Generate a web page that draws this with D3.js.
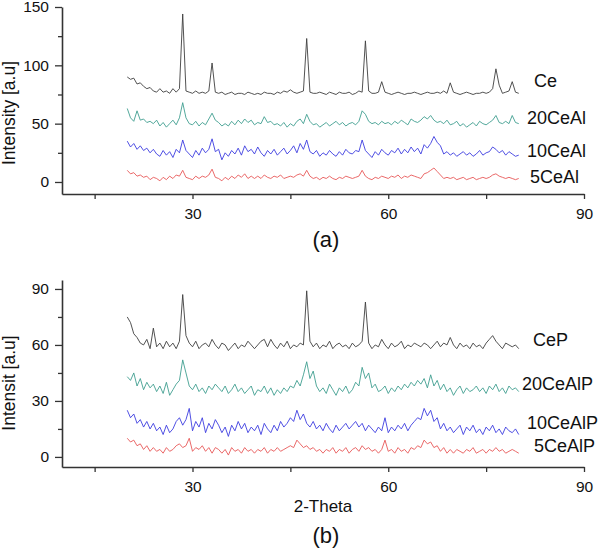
<!DOCTYPE html>
<html>
<head>
<meta charset="utf-8">
<script src="https://cdn.jsdelivr.net/npm/d3@7"></script>
<style>
  body { margin: 0; background: #fff; }
  text { font-family: "Liberation Sans", Arial, sans-serif; fill: #111; }
</style>
</head>
<body>
<div id="chart"></div>
<script>
// 2-theta sampling grid (20 to 80 deg, 0.5 deg step)
let twoTheta = d3.range(0, 121).map(i => 20 + i * 0.5);

// panel (a) intensities
let ce = [
  90, 88, 89, 84, 85, 82, 80, 81, 78, 77,
  80, 77, 78, 76, 80, 77, 80, 144, 78, 77,
  76, 78, 76, 77, 76, 78, 102, 77, 76, 77,
  75, 76, 77, 75, 76, 76, 75, 77, 76, 75,
  76, 75, 77, 76, 76, 75, 77, 76, 78, 77,
  79, 77, 76, 77, 78, 123, 77, 76, 76, 77,
  76, 75, 77, 76, 75, 77, 76, 76, 77, 75,
  76, 78, 77, 121, 78, 76, 76, 77, 86, 77,
  76, 75, 76, 77, 76, 75, 76, 76, 77, 76,
  75, 76, 77, 76, 76, 77, 76, 78, 76, 85,
  77, 76, 75, 76, 77, 76, 75, 76, 76, 77,
  76, 77, 80, 97, 83, 76, 77, 78, 86, 77,
  76
];
let ce20Al = [
  63, 55, 52, 61, 53, 54, 51, 52, 50, 53,
  48, 51, 47, 50, 53, 49, 55, 68, 55, 50,
  49, 52, 48, 51, 49, 54, 59, 53, 51, 48,
  50, 48, 52, 49, 53, 50, 54, 51, 53, 49,
  51, 50, 56, 51, 52, 49, 50, 48, 51, 47,
  50, 48, 52, 54, 50, 58, 52, 49, 50, 47,
  49, 51, 48, 50, 52, 49, 51, 48, 50, 51,
  49, 52, 61, 58, 52, 50, 51, 49, 52, 50,
  51, 49, 52, 50, 53, 51, 49, 54, 52, 51,
  53, 56, 54, 57, 53, 51, 52, 50, 53, 49,
  50, 52, 48, 50, 47, 49, 51, 48, 52, 50,
  49, 51, 53, 57, 51, 50, 52, 50, 57, 51,
  50
];
let ce10Al = [
  35, 30, 33, 28, 31, 27, 29, 25, 28, 24,
  22, 27, 23, 26, 21, 28, 25, 36, 27, 24,
  21, 27, 23, 29, 25, 28, 37, 26, 28, 19,
  25, 22, 27, 24, 29, 23, 31, 26, 28, 24,
  30, 25, 22, 27, 24, 28, 23, 26, 29, 24,
  27, 31, 25, 33, 28, 36, 26, 24, 27, 22,
  25, 23, 27, 24, 22, 26, 23, 28, 25, 24,
  27, 26, 36, 27, 24, 21, 26, 23, 28, 25,
  23, 27, 25, 29, 24, 28, 25, 30, 26, 29,
  24, 32, 29, 33, 39, 34, 31, 24, 26, 23,
  25, 22, 24, 26, 23, 25, 22, 24, 27, 23,
  25, 26, 30, 28, 25, 27, 23, 26, 24, 22,
  23
];
let ce5Al = [
  10, 7, 8, 5, 6, 4, 5, 2, 4, 3,
  1, 4, 2, 5, 3, 6, 5, 10, 4, 3,
  2, 5, 3, 5, 4, 6, 11, 4, 3, 1,
  4, 2, 5, 3, 6, 4, 7, 3, 5, 3,
  5, 3, 6, 4, 3, 5, 4, 6, 3, 4,
  5, 4, 6, 7, 5, 10, 5, 3, 4, 2,
  4, 3, 5, 3, 2, 4, 3, 5, 4, 3,
  4, 5, 10, 5, 3, 2, 4, 3, 5, 4,
  3, 5, 4, 6, 3, 5, 4, 6, 5, 4,
  3, 7, 8, 10, 12, 9, 6, 3, 4, 3,
  4, 2, 3, 4, 2, 3, 4, 2, 3, 4,
  3, 4, 6, 7, 5, 4, 3, 4, 3, 2,
  3
];

// panel (b) intensities
let ceP = [
  75, 72, 66, 64, 61, 60, 63, 58, 69, 59,
  61, 58, 62, 59, 61, 58, 62, 87, 65, 61,
  59, 62, 58, 60, 61, 59, 63, 60, 58, 61,
  60, 57, 59, 61, 58, 60, 59, 62, 60, 58,
  60, 62, 63, 59, 63, 60, 58, 61, 59, 62,
  58, 60, 59, 61, 60, 89, 62, 59, 61, 58,
  60, 59, 62, 58, 60, 61, 59, 60, 58, 61,
  59, 60, 62, 83, 61, 58, 60, 59, 63, 60,
  58, 61, 59, 60, 62, 58, 60, 59, 61, 60,
  59, 61, 60, 58, 60, 62, 59, 61, 60, 64,
  60, 58, 61, 59, 60, 58, 61, 59, 60, 58,
  61, 63, 65, 62, 60, 58, 61, 60, 59, 60,
  58
];
let ce20AlP = [
  43, 41, 45, 38, 42, 36, 40, 37, 39, 35,
  38, 34, 40, 33, 36, 39, 41, 52, 45, 38,
  36, 39, 35, 37, 34, 38, 36, 39, 37, 35,
  38, 34, 36, 39, 35, 37, 34, 36, 38, 33,
  36, 35, 38, 34, 37, 33, 36, 34, 37, 35,
  38, 37, 41, 38, 44, 51, 42, 46, 38, 35,
  37, 34, 39, 36, 33, 37, 35, 38, 34, 36,
  40, 38, 48, 42, 45, 37, 39, 35, 36, 38,
  34, 37, 35, 38, 36, 39, 37, 40, 38, 41,
  39, 42, 37, 44, 38, 41, 36, 39, 35, 37,
  33, 36, 38, 34, 37, 35, 36, 38, 35, 37,
  34, 38, 36, 39, 35, 37, 34, 38, 36, 37,
  35
];
let ce10AlP = [
  25, 21, 23, 18, 20, 16, 19, 15, 18, 14,
  16, 12, 17, 13, 15, 19, 21, 17, 20, 26,
  14, 19, 16, 21, 13, 18, 15, 20, 17, 13,
  16, 11, 17, 14, 19, 15, 18, 13, 16, 14,
  17, 12, 18, 15, 13, 17, 14, 19, 16, 18,
  21, 19, 25, 20, 23, 18, 16, 19, 15, 17,
  14, 18, 15, 13, 17, 14, 16, 18, 15, 17,
  19, 16, 18, 14, 17, 15, 13, 16, 14, 21,
  13, 16, 14, 17, 15, 18, 14, 17, 19, 21,
  20, 26, 22, 25, 19, 21, 15, 18, 14, 16,
  13, 15, 17, 12, 16, 14, 17, 13, 15, 12,
  16, 14, 17, 13, 15, 12, 16, 14, 13, 15,
  12
];
let ce5AlP = [
  10, 8, 9, 6, 7, 4, 6, 3, 5, 3,
  4, 2, 5, 3, 4, 6, 7, 5, 6, 10,
  3, 5, 4, 6, 3, 5, 2, 5, 4, 2,
  4, 1, 5, 3, 4, 2, 5, 3, 4, 2,
  4, 3, 5, 2, 4, 3, 5, 3, 4, 5,
  6, 5, 9, 7, 5, 6, 4, 5, 3, 4,
  2, 4, 3, 5, 2, 4, 3, 5, 2, 4,
  5, 3, 6, 4, 5, 3, 4, 2, 4, 9,
  3, 4, 2, 5, 3, 4, 2, 5, 4, 6,
  5, 9, 7, 8, 5, 6, 3, 5, 2, 4,
  2, 4, 3, 2, 4, 3, 5, 2, 3, 4,
  2, 4, 3, 5, 3, 4, 2, 3, 4, 3,
  2
];

let labelsA = ["Ce", "20CeAl", "10CeAl", "5CeAl"];
let labelsB = ["CeP", "20CeAlP", "10CeAlP", "5CeAlP"];
let xMajor = [30, 60, 90];
let xMinor = [15, 45, 75];
let yMajorA = [0, 50, 100, 150];
let yMinorA = [25, 75, 125];
let yMajorB = [0, 30, 60, 90];
let yMinorB = [15, 45, 75];

let colors = ["#3e3e3e", "#3f9e90", "#3c3ce0", "#e85858"];

let svgWidth = 600;
let svgHeight = 552;

let svg = d3.select("#chart")
  .append("svg")
  .attr("width", svgWidth)
  .attr("height", svgHeight);

let xScale = d3.scaleLinear().domain([10, 90]).range([62, 584]);

function drawPanel(opts) {
  let yScale = d3.scaleLinear().domain(opts.yDomain).range(opts.yRange);
  let g = svg.append("g");
  let bottom = opts.yRange[0];

  // curves
  let line = d3.line()
    .x((d, i) => xScale(twoTheta[i]))
    .y(d => yScale(d));

  opts.series.forEach(function(s, k) {
    g.append("path")
      .attr("d", line(s))
      .attr("fill", "none")
      .attr("stroke", colors[k])
      .attr("stroke-width", 0.9)
      .attr("stroke-linejoin", "round");
  });

  // axes
  g.append("g")
    .attr("transform", `translate(0, ${bottom})`)
    .call(d3.axisBottom(xScale).tickValues(xMajor).tickSize(5).tickSizeOuter(0).tickPadding(9));
  g.append("g")
    .attr("transform", `translate(0, ${bottom})`)
    .call(d3.axisBottom(xScale).tickValues(xMinor).tickSize(5).tickFormat(""))
    .select(".domain").remove();

  g.append("g")
    .attr("transform", `translate(62, 0)`)
    .call(d3.axisLeft(yScale).tickValues(opts.yMajor).tickSize(7).tickSizeOuter(0).tickPadding(6));
  g.append("g")
    .attr("transform", `translate(62, 0)`)
    .call(d3.axisLeft(yScale).tickValues(opts.yMinor).tickSize(4).tickFormat(""))
    .select(".domain").remove();

  g.selectAll(".domain").attr("stroke", "#333").attr("stroke-width", 1.6);
  g.selectAll(".tick line").attr("stroke", "#333").attr("stroke-width", 1.3);
  g.selectAll(".tick text")
    .attr("font-size", 15.5)
    .attr("font-family", "Liberation Sans, Arial, sans-serif")
    .attr("fill", "#111");

  // y title
  g.append("text")
    .attr("transform", `translate(15, ${opts.yTitleY}) rotate(-90)`)
    .attr("text-anchor", "middle")
    .attr("font-size", 17.5)
    .text(opts.yTitle);

  // series labels
  opts.labels.forEach(function(t, k) {
    g.append("text")
      .attr("x", opts.labelX[k])
      .attr("y", opts.labelY[k])
      .attr("font-size", 18)
      .text(t);
  });

  // panel tag
  g.append("text")
    .attr("x", 326)
    .attr("y", opts.tagY)
    .attr("text-anchor", "middle")
    .attr("font-size", 22)
    .text(opts.tag);
}

drawPanel({
  series: [ce, ce20Al, ce10Al, ce5Al],
  yDomain: [-10.3, 150],
  yRange: [194, 7],
  yMajor: yMajorA,
  yMinor: yMinorA,
  yTitle: "Intensity [a.u]",
  yTitleY: 113,
  labels: labelsA,
  labelX: [534, 527, 527, 530],
  labelY: [87, 124, 157, 183],
  tag: "(a)",
  tagY: 247
});

drawPanel({
  series: [ceP, ce20AlP, ce10AlP, ce5AlP],
  yDomain: [-5.4, 94.8],
  yRange: [467, 280],
  yMajor: yMajorB,
  yMinor: yMinorB,
  yTitle: "Intensit [a.u]",
  yTitleY: 383,
  labels: labelsB,
  labelX: [533, 522, 527, 534],
  labelY: [346, 390, 429, 452],
  tag: "(b)",
  tagY: 543
});

// x title (panel b only)
svg.append("text")
  .attr("x", 323)
  .attr("y", 512)
  .attr("text-anchor", "middle")
  .attr("font-size", 17)
  .text("2-Theta");
</script>
</body>
</html>
